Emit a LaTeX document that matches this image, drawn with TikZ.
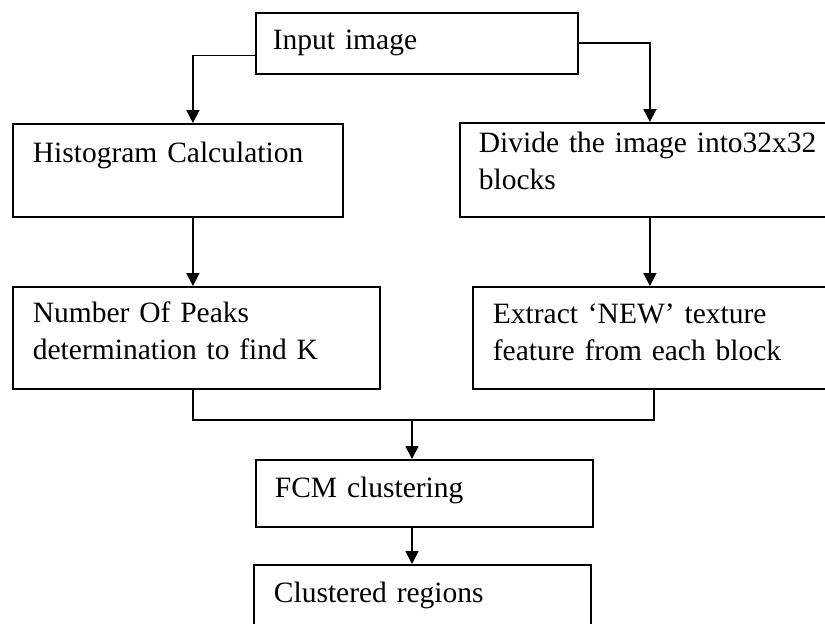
\documentclass[tikz,border=0pt]{standalone}
\usepackage{fontspec}
\setmainfont{Liberation Serif}
\usetikzlibrary{arrows.meta}

\begin{document}
\begin{tikzpicture}[x=0.5pt,y=0.5pt,>={Triangle[width=6.5pt,length=6.5pt]},line width=0.9pt,
  stage/.style={draw,rectangle,anchor=north west,inner ysep=0pt,inner xsep=10pt,align=left,
    font=\fontsize{14.75}{18.5}\selectfont}]

\useasboundingbox (0,0) rectangle (825,623);
\clip (0,0) rectangle (825,623);

\node[stage,text width=144pt,inner xsep=8.5pt,text height=18.5pt,text depth=12pt]   (input)   at (255,611)   {Input image};
\node[stage,text width=145pt,text height=19.5pt,text depth=27pt]                    (hist)    at (12,500)    {Histogram Calculation};
\node[stage,text width=171pt,inner xsep=9.5pt,text height=15pt,text depth=32pt]     (divide)  at (459,501)   {Divide the image into32x32\\blocks};
\node[stage,text width=163.5pt,text height=18pt,text depth=33pt]                    (peaks)   at (12,337)    {Number Of Peaks\\determination to find K};
\node[stage,text width=170pt,text height=18.5pt,text depth=32.5pt]                  (texture) at (472,337)   {Extract ‘NEW’ texture\\feature from each block};
\node[stage,text width=149.5pt,inner xsep=9.5pt,text height=19pt,text depth=14.5pt] (fcm)     at (255,164)   {FCM clustering};
\node[stage,text width=148.5pt,text height=19pt,text depth=21pt]                    (regions) at (253,59)    {Clustered regions};

\coordinate (merge) at (412,203);

	\draw[->] ([yshift=-6pt]input.west) -| ([xshift=7.5pt]hist.north);
	\draw[->] (input.east) -| (divide.north);
	\draw[->] ([xshift=7.5pt]hist.south) -- ([xshift=7.5pt]hist.south |- peaks.north);
	\draw[->] (divide.south) -- (divide.south |- texture.north);
	\draw ([xshift=-1.75pt]peaks.south) |- (merge);
	\draw ([xshift=-4.5pt]texture.south) |- (merge);
	\draw[->] (merge) -- (merge |- fcm.north);
	\draw[->] (merge |- fcm.south) -- (merge |- regions.north);

\end{tikzpicture}
\end{document}
